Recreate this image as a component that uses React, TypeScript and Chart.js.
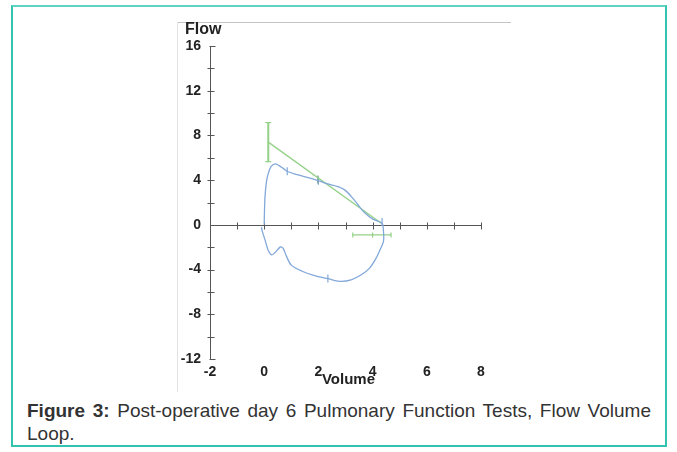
import React, { useEffect, useRef } from "react";
import { Chart, registerables } from "chart.js";

Chart.register(...registerables);

// ---- Data ----
const expVolume = [0, 0.01, 0.03, 0.08, 0.15, 0.25, 0.4, 0.55, 0.7, 0.88, 1.25, 1.62, 1.99, 2.35, 2.72, 2.97, 3.21, 3.46, 3.7, 4.01, 4.32, 4.38];
const expFlow = [0, 1.2, 2.5, 3.8, 4.6, 5.2, 5.45, 5.3, 5.05, 4.75, 4.47, 4.23, 3.96, 3.66, 3.42, 3.13, 2.55, 1.8, 1.1, 0.51, 0.21, 0];
const insVolume = [4.38, 4.41, 4.4, 4.3, 4.13, 3.89, 3.58, 3.21, 2.78, 2.35, 1.86, 1.4, 1.0, 0.82, 0.7, 0.6, 0.5, 0.39, 0.27, 0.15, 0.03, -0.08, -0.1];
const insFlow = [0, -0.9, -1.5, -2.1, -2.98, -3.87, -4.47, -4.92, -5.05, -4.82, -4.55, -4.15, -3.6, -2.8, -2.1, -1.98, -2.2, -2.5, -2.68, -2.3, -1.34, -0.5, -0.2];

const predVolume = [0.15, 4.32];
const predFlow = [7.4, 0.15];
const pefBarVolume = [0.15, 0.15];
const pefBarFlow = [9.15, 5.65];
const fvcBarVolume = [3.27, 4.68];
const fvcBarFlow = [-0.9, -0.9];
const fvcTickVolume = [3.27, 4.0, 4.68];
const fvcTickFlow = [-0.9, -0.9, -0.9];
const greenTickVolume = [1.98];
const greenTickFlow = [4.05];
const blueTickVolume = [0.85, 2.0, 4.35, 2.35];
const blueTickFlow = [4.8, 3.95, 0.25, -4.8];

const xTickLabels = [-2, 0, 2, 4, 6, 8];
const yTickLabels = [16, 12, 8, 4, 0, -4, -8, -12];
const xAxisTicks = [-1, 0, 1, 2, 3, 4, 5, 6, 7, 8];
const yAxisTicks = [14, 12, 10, 8, 6, 4, 2, -2, -4, -6, -8, -10];

const X_MIN = -2;
const X_MAX = 8;
const Y_MIN = -12;
const Y_MAX = 16;

const FONT = "'Liberation Sans', Arial, sans-serif";
const BLUE = "#82a8da";
const GREEN = "#93d186";

const zip = (xs: number[], ys: number[]) => xs.map((x, i) => ({ x, y: ys[i] }));

const axesPlugin = {
  id: "crossAxes",
  beforeDatasetsDraw(chart: any) {
    const { ctx, scales } = chart;
    const x = scales.x;
    const y = scales.y;
    const ax = Math.round(x.getPixelForValue(X_MIN)) + 0.5;
    const ay = Math.round(y.getPixelForValue(0)) + 0.5;
    ctx.save();
    ctx.strokeStyle = "#555";
    ctx.lineWidth = 1;
    ctx.beginPath();
    ctx.moveTo(ax, y.getPixelForValue(Y_MAX));
    ctx.lineTo(ax, y.getPixelForValue(Y_MIN));
    ctx.moveTo(ax, ay);
    ctx.lineTo(x.getPixelForValue(X_MAX), ay);
    yAxisTicks.forEach((v) => {
      const py = Math.round(y.getPixelForValue(v)) + 0.5;
      ctx.moveTo(ax - 3, py);
      ctx.lineTo(ax + 4, py);
    });
    [Y_MAX, Y_MIN].forEach((v) => {
      const py = Math.round(y.getPixelForValue(v)) + 0.5;
      ctx.moveTo(ax - 1, py);
      ctx.lineTo(ax + 5, py);
    });
    xAxisTicks.forEach((v) => {
      const px = Math.round(x.getPixelForValue(v)) + 0.5;
      ctx.moveTo(px, ay - 3);
      ctx.lineTo(px, ay + 4);
    });
    ctx.stroke();

    ctx.fillStyle = "#222";
    ctx.font = `bold 16px ${FONT}`;
    ctx.textBaseline = "middle";
    ctx.textAlign = "left";
    ctx.fillText("Flow", x.left - 25, y.top - 16);
    ctx.font = `bold 15px ${FONT}`;
    ctx.textAlign = "center";
    ctx.fillText("Volume", (x.left + x.right) / 2 + 3, y.bottom + 21);
    ctx.restore();
  },
};

function FlowVolumeChart() {
  const ref = useRef<HTMLCanvasElement | null>(null);
  useEffect(() => {
    if (!ref.current) return;
    const tickPoint = (data: any[], color: string, rotation: number, radius: number) => ({
      type: "scatter" as const,
      data,
      showLine: false,
      pointStyle: "line",
      rotation,
      pointRadius: radius,
      borderColor: color,
      borderWidth: 1.2,
    });
    const chart = new Chart(ref.current, {
      type: "scatter",
      data: {
        datasets: [
          {
            data: [...zip(expVolume, expFlow), ...zip(insVolume, insFlow)],
            showLine: true,
            borderColor: BLUE,
            borderWidth: 1.3,
            pointRadius: 0,
            tension: 0.3,
          } as any,
          { data: zip(predVolume, predFlow), showLine: true, borderColor: GREEN, borderWidth: 1.3, pointRadius: 0 },
          { data: zip(pefBarVolume, pefBarFlow), showLine: true, borderColor: GREEN, borderWidth: 2, pointRadius: 0 },
          { data: zip(fvcBarVolume, fvcBarFlow), showLine: true, borderColor: GREEN, borderWidth: 1.2, pointRadius: 0 },
          tickPoint(zip(pefBarVolume, pefBarFlow), GREEN, 0, 3),
          tickPoint(zip(fvcTickVolume, fvcTickFlow), GREEN, 90, 2.5),
          tickPoint(zip(greenTickVolume, greenTickFlow), "#6f9a8a", 90, 4),
          tickPoint(zip(blueTickVolume, blueTickFlow), BLUE, 90, 4),
        ] as any,
      },
      options: {
        animation: false,
        responsive: false,
        devicePixelRatio: 1,
        layout: { padding: { left: 0, right: 30, top: 24, bottom: 0 } },
        plugins: { legend: { display: false }, tooltip: { enabled: false }, title: { display: false } },
        scales: {
          x: {
            type: "linear",
            min: X_MIN,
            max: X_MAX,
            afterBuildTicks: (s: any) => {
              s.ticks = xTickLabels.map((v) => ({ value: v }));
            },
            ticks: { color: "#222", font: { family: FONT, size: 14, weight: "bold" }, padding: 5, maxRotation: 0 },
            grid: { display: false, drawTicks: false },
            border: { display: false },
            afterFit: (s: any) => {
              s.height = 33;
            },
          },
          y: {
            type: "linear",
            min: Y_MIN,
            max: Y_MAX,
            afterBuildTicks: (s: any) => {
              s.ticks = yTickLabels.map((v) => ({ value: v }));
            },
            ticks: { color: "#222", font: { family: FONT, size: 14, weight: "bold" }, padding: 9 },
            grid: { display: false, drawTicks: false },
            border: { display: false },
            afterFit: (s: any) => {
              s.width = 33;
            },
          },
        },
      } as any,
      plugins: [axesPlugin],
    });
    return () => chart.destroy();
  }, []);
  return <canvas ref={ref} width={334} height={370} style={{ position: "absolute", left: 177, top: 22 }} />;
}

export default function App() {
  useEffect(() => {
    document.body.style.margin = "0";
  }, []);
  return (
    <div style={{ position: "relative", width: 677, height: 452, background: "#fff", overflow: "hidden" }}>
      <div
        style={{
          position: "absolute",
          left: 11,
          top: 5,
          width: 656,
          height: 442,
          boxSizing: "border-box",
          border: "2px solid #33c3ae",
          borderTopColor: "#5fd2c2",
        }}
      />
      <div style={{ position: "absolute", left: 177, top: 22, width: 334, height: 1, background: "#c4c4c4" }} />
      <div style={{ position: "absolute", left: 177, top: 22, width: 1, height: 370, background: "#e2e2e2" }} />
      <FlowVolumeChart />
      <div
        style={{
          position: "absolute",
          left: 27,
          top: 399,
          width: 624,
          fontFamily: FONT,
          fontSize: 19,
          lineHeight: "23px",
          color: "#333",
          textAlign: "justify",
        }}
      >
        <b>Figure 3:</b> Post-operative day 6 Pulmonary Function Tests, Flow Volume Loop.
      </div>
    </div>
  );
}
